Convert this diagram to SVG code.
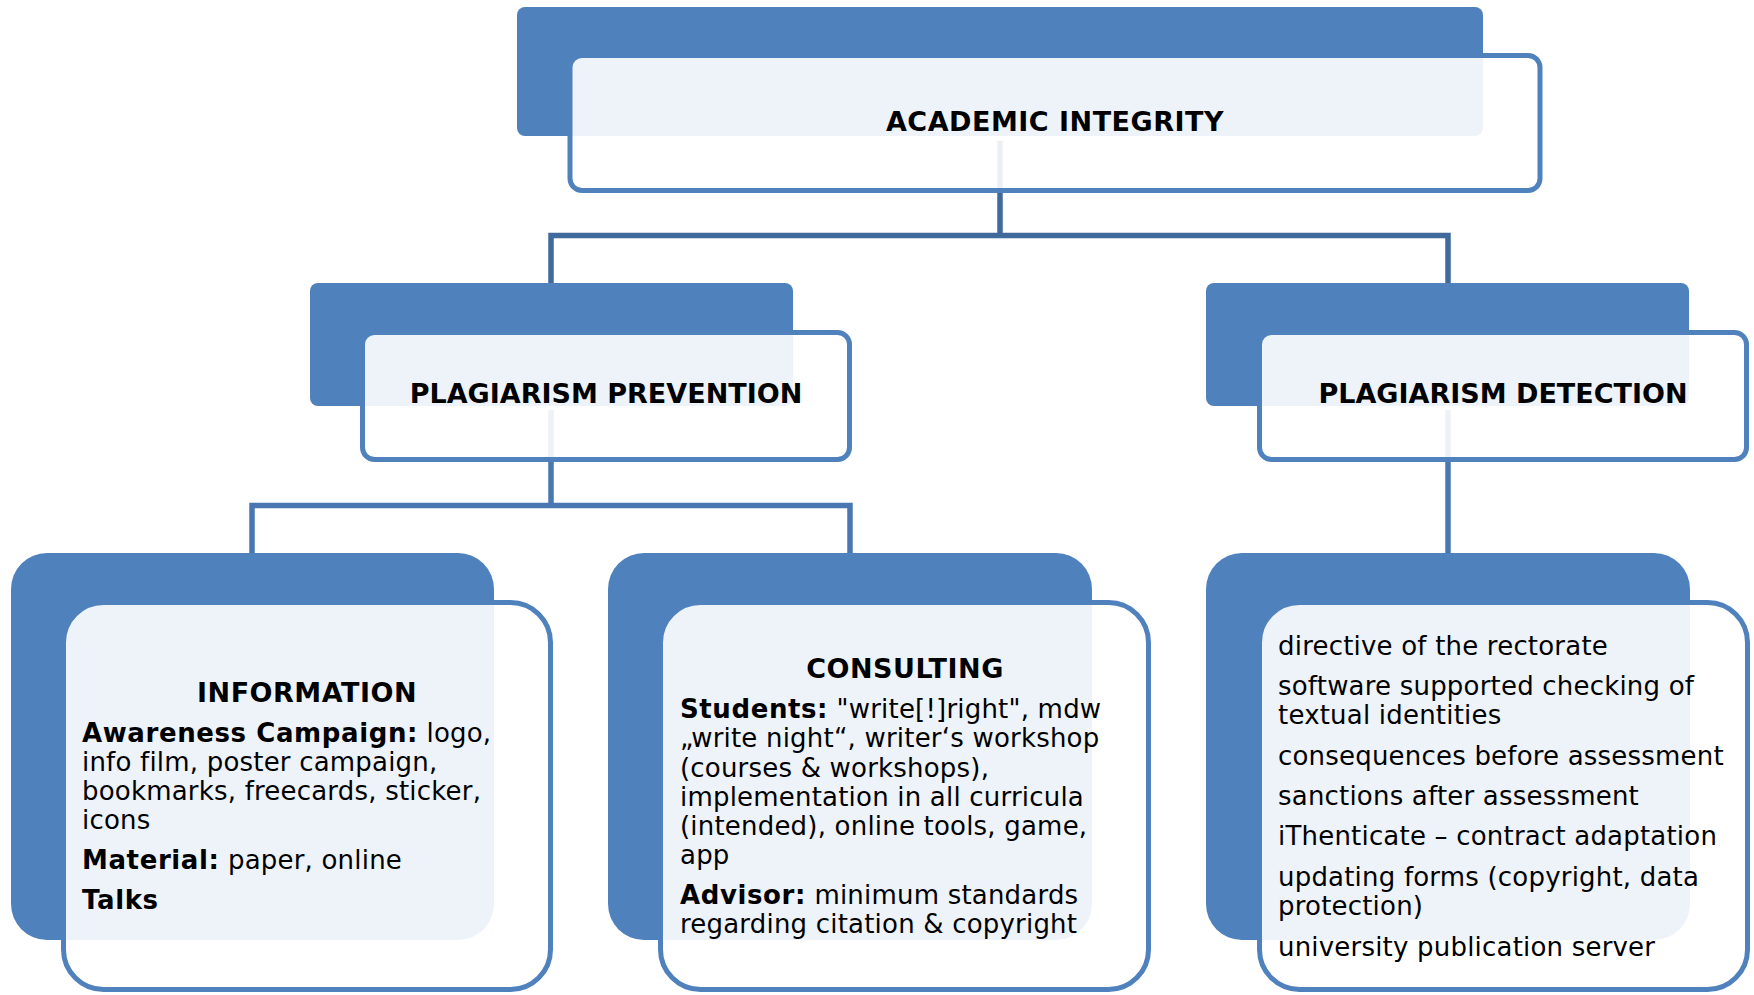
<svg xmlns="http://www.w3.org/2000/svg" width="1754" height="995" viewBox="0 0 1754 995">
<style>
.back{fill:#4F81BD}
.front{fill:#FFFFFF;fill-opacity:0.9;stroke:#4F81BD;stroke-width:5}
.conn{fill:none;stroke:#4A77B1;stroke-width:5.5;stroke-linejoin:miter}
.conn.top{stroke:#40699C}
.h{font-family:"DejaVu Sans",Verdana,sans-serif;font-weight:bold;font-size:27px;text-anchor:middle;fill:#000}
.t{font-family:"DejaVu Sans",Verdana,sans-serif;font-size:26px;letter-spacing:0.2px;fill:#000}
.b{font-weight:bold;letter-spacing:0.6px}
.ls{letter-spacing:0.5px}
</style>
<rect width="1754" height="995" fill="#FFFFFF"/>
<g id="connectors">
<path class="conn top" d="M1000,141 V235.5 M551,283 V235.5 H1448 V283"/>
<path class="conn" d="M551,410 V505.5 M252,553 V505.5 H850 V553"/>
<path class="conn" d="M1448,410 V553"/>
</g>
<g id="academic-integrity">
<rect class="back" x="517" y="7" width="966" height="129" rx="8"/>
<rect class="front" x="570" y="55.5" width="970" height="135" rx="12"/>
<text class="h ls" x="1055" y="131">ACADEMIC INTEGRITY</text>
</g>
<g id="plagiarism-prevention">
<rect class="back" x="310" y="283" width="483" height="123" rx="8"/>
<rect class="front" x="362.5" y="332.5" width="487" height="127" rx="12"/>
<text class="h" x="606" y="403">PLAGIARISM PREVENTION</text>
</g>
<g id="plagiarism-detection">
<rect class="back" x="1206" y="283" width="483" height="123" rx="8"/>
<rect class="front" x="1259.5" y="332.5" width="487" height="127" rx="12"/>
<text class="h" x="1503" y="403">PLAGIARISM DETECTION</text>
</g>
<g id="information">
<rect class="back" x="11" y="553" width="483" height="387" rx="36"/>
<rect class="front" x="63.5" y="602.5" width="487" height="387" rx="40"/>
<text class="h ls" x="307" y="702">INFORMATION</text>
<text class="t" x="82" y="742"><tspan class="b">Awareness Campaign:</tspan> logo,</text>
<text class="t" x="82" y="771">info film, poster campaign,</text>
<text class="t" x="82" y="800">bookmarks, freecards, sticker,</text>
<text class="t" x="82" y="829">icons</text>
<text class="t" x="82" y="869"><tspan class="b">Material:</tspan> paper, online</text>
<text class="t b" x="82" y="909">Talks</text>
</g>
<g id="consulting">
<rect class="back" x="608" y="553" width="484" height="387" rx="36"/>
<rect class="front" x="660.5" y="602.5" width="488" height="387" rx="40"/>
<text class="h ls" x="905" y="678">CONSULTING</text>
<text class="t" x="680" y="718"><tspan class="b">Students:</tspan> "write[!]right", mdw</text>
<text class="t" x="680" y="747">„write night“, writer‘s workshop</text>
<text class="t" x="680" y="777">(courses &amp; workshops),</text>
<text class="t" x="680" y="806">implementation in all curricula</text>
<text class="t" x="680" y="835">(intended), online tools, game,</text>
<text class="t" x="680" y="864">app</text>
<text class="t" x="680" y="904"><tspan class="b">Advisor:</tspan> minimum standards</text>
<text class="t" x="680" y="933">regarding citation &amp; copyright</text>
</g>
<g id="detection-measures">
<rect class="back" x="1206" y="553" width="484" height="387" rx="36"/>
<rect class="front" x="1259.5" y="602.5" width="488" height="387" rx="40"/>
<text class="t" x="1278" y="655">directive of the rectorate</text>
<text class="t" x="1278" y="695">software supported checking of</text>
<text class="t" x="1278" y="724">textual identities</text>
<text class="t" x="1278" y="765">consequences before assessment</text>
<text class="t" x="1278" y="805">sanctions after assessment</text>
<text class="t" x="1278" y="845">iThenticate – contract adaptation</text>
<text class="t" x="1278" y="886">updating forms (copyright, data</text>
<text class="t" x="1278" y="915">protection)</text>
<text class="t" x="1278" y="956">university publication server</text>
</g>
</svg>
